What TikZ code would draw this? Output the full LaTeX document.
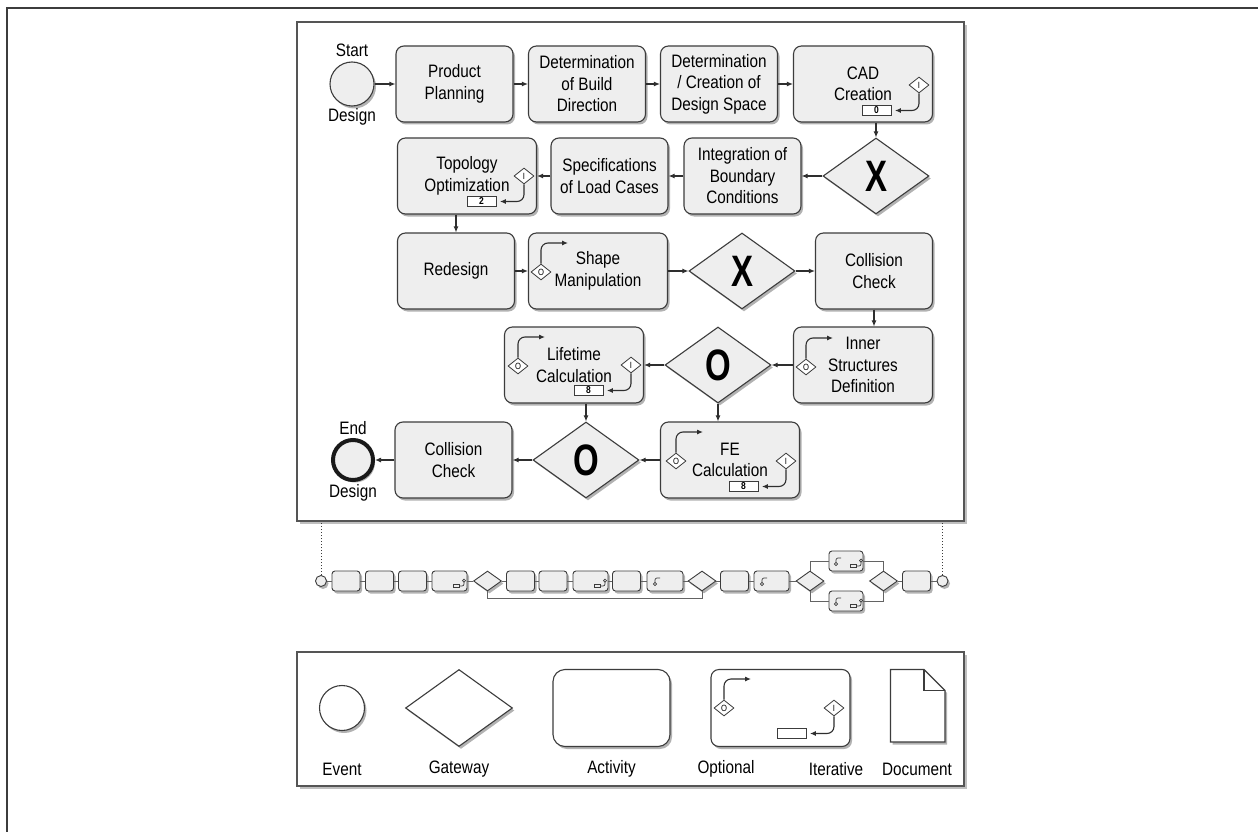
\documentclass[tikz,border=0pt]{standalone}
\usepackage{fontspec}
\setmainfont{Liberation Sans}[FakeStretch=0.85]
\newfontfamily\gwfont{Liberation Sans}[FakeStretch=0.75]
\usetikzlibrary{shapes.geometric,shadows,arrows.meta,calc}
\definecolor{bord}{HTML}{3C3C3C}
\definecolor{boxfill}{HTML}{EEEEEE}
\definecolor{arrcol}{HTML}{2E2E2E}
\definecolor{framecol}{HTML}{555555}
\tikzset{
  shadowed/.style={drop shadow={shadow xshift=2pt, shadow yshift=-2.5pt, opacity=0.3, fill=black}},
  act/.style={draw=bord, fill=boxfill, line width=1.1pt, rounded corners=8pt, minimum width=117pt, minimum height=76pt, inner sep=2pt, align=center, shadowed},
  wact/.style={act, minimum width=139pt},
  gw/.style={diamond, draw=bord, fill=boxfill, line width=1.1pt, minimum width=106pt, minimum height=76pt, inner sep=0pt, shadowed, font=\gwfont\fontsize{44pt}{44pt}\selectfont\bfseries},
  evt/.style={circle, draw=bord, fill=boxfill, line width=1.1pt, minimum size=44pt, inner sep=0pt, shadowed},
  lbl/.style={inner sep=0pt, align=center},
  smalld/.style={diamond, draw=bord, fill=white, line width=0.8pt, minimum width=20pt, minimum height=16pt, inner sep=0pt, font=\fontsize{9pt}{9pt}\selectfont},
  numbox/.style={draw=bord, fill=white, line width=0.8pt, minimum width=29pt, minimum height=10pt, inner sep=0pt, font=\fontsize{10pt}{10pt}\selectfont\bfseries},
  iconarr/.style={draw=arrcol, line width=1.1pt, -{Latex[length=6pt,width=5pt]}},
  conn/.style={draw=arrcol, line width=1.1pt, -{Latex[length=6pt,width=5pt]}},
  mbox/.style={draw=bord, fill=boxfill, line width=0.9pt, rounded corners=3pt, minimum width=28pt, minimum height=20pt, inner sep=0pt, shadowed},
  mgw/.style={diamond, draw=bord, fill=boxfill, line width=0.9pt, minimum width=28pt, minimum height=20pt, inner sep=0pt, shadowed},
  mline/.style={draw=bord!80, line width=0.9pt},
  mevt/.style={circle, draw=bord, fill=boxfill, line width=0.9pt, minimum size=11pt, inner sep=0pt, shadowed},
  minicon/.style={draw=bord, line width=0.7pt},
  framebox/.style={draw=framecol, line width=1.1pt, fill=white, drop shadow={shadow xshift=3pt, shadow yshift=-3pt, opacity=0.25, fill=black}},
  pics/optmark/.style={code={
    \node[smalld] (-d) at (0,0) {O};
    \coordinate (-t) at (27,-29);
    \draw[iconarr, rounded corners=7pt] (-d.north) |- (-t);
  }},
  pics/itermark/.style={code={
    \node[smalld] (-d) at (0,0) {I};
    \node[numbox] (-r) at (-42.5,25.5) {#1};
    \draw[iconarr, rounded corners=7pt, shorten >=3.5pt] (-d.south) |- (-r.east);
  }},
  pics/miniopt/.style={code={
    \draw[minicon] (0,0) circle (1.6pt);
    \draw[minicon, rounded corners=2pt] (0,-1.6) |- (5,-6);
  }},
  pics/miniiter/.style={code={
    \draw[minicon] (-3,-1.7) rectangle (3,1.7);
    \draw[minicon, rounded corners=2pt] (3,0) -| (8,-3.8);
    \draw[minicon] (8,-5.4) circle (1.6pt);
  }},
}
\begin{document}
\begin{tikzpicture}[x=1pt,y=-1pt, every node/.style={font=\fontsize{18pt}{21.5pt}\selectfont}]
\useasboundingbox (0,0) rectangle (1258,832);
% outer page lines
\draw[draw=bord, line width=1.4pt] (7,832) -- (7,8) -- (1258,8);

% frames
\node[framebox, minimum width=667pt, minimum height=499pt] (mainframe) at (630.5,271.5) {};
\node[framebox, minimum width=667pt, minimum height=134pt] (legframe) at (630.5,719) {};

% row 1
\node[evt] (start) at (352,84) {};
\node[lbl] (startlbl) at (352,50) {Start};
\node[lbl] (startlbl2) at (352,117) {Design};
\node[act] (pp) at (454.5,84) {Product\\Planning};
\node[act] (dbd) at (587,84) {Determination\\of Build\\Direction};
\node[act] (dcds) at (719,84) {Determination\\/ Creation of\\Design Space};
\node[wact] (cad) at (863,84) {CAD\\Creation};
\pic (cadi) at (919,85) {itermark=0};

% row 2
\node[gw] (gw1) at (876,176) {X};
\node[act] (integ) at (742.5,176) {Integration of\\Boundary\\Conditions};
\node[act] (specs) at (609.5,176) {Specifications\\of Load Cases};
\node[wact] (topo) at (467,176) {Topology\\Optimization};
\pic (topoi) at (524,176) {itermark=2};

% row 3
\node[act] (redesign) at (456,271) {Redesign};
\node[wact] (shape) at (598,271) {Shape\\Manipulation};
\pic (shapeo) at (541,272) {optmark};
\node[gw] (gw2) at (742,271) {X};
\node[act] (coll1) at (874,271) {Collision\\Check};

% row 4
\node[wact] (inner) at (863,365) {Inner\\Structures\\Definition};
\pic (innero) at (806,367) {optmark};
\node[gw] (gw3) at (718,365) {O};
\node[wact] (life) at (574,365) {Lifetime\\Calculation};
\pic (lifeo) at (518,366) {optmark};
\pic (lifei) at (631,365) {itermark=8};

% row 5
\node[wact] (fe) at (730,460) {FE\\Calculation};
\pic (feo) at (676,461) {optmark};
\pic (fei) at (786,461) {itermark=8};
\node[gw] (gw4) at (586,460) {O};
\node[act] (coll2) at (453.5,460) {Collision\\Check};
\node[evt, draw=black!90, line width=4pt, minimum size=40pt] (end) at (353,460) {};
\node[lbl] (endlbl) at (353,428) {End};
\node[lbl] (endlbl2) at (353,493) {Design};

% connectors
\draw[conn] (start) -- (pp);
\draw[conn] (pp) -- (dbd);
\draw[conn] (dbd) -- (dcds);
\draw[conn] (dcds) -- (cad);
\draw[conn] (gw1.north |- cad.south) -- (gw1.north);
\draw[conn] (gw1) -- (integ);
\draw[conn] (integ) -- (specs);
\draw[conn] (specs) -- (topo);
\draw[conn] (redesign.north |- topo.south) -- (redesign.north);
\draw[conn] (redesign) -- (shape);
\draw[conn] (shape) -- (gw2);
\draw[conn] (gw2) -- (coll1);
\draw[conn] (coll1.south) -- (coll1.south |- inner.north);
\draw[conn] (inner) -- (gw3);
\draw[conn] (gw3) -- (life);
\draw[conn] (gw3.south) -- (gw3.south |- fe.north);
\draw[conn] (gw4.north |- life.south) -- (gw4.north);
\draw[conn] (fe) -- (gw4);
\draw[conn] (gw4) -- (coll2);
\draw[conn] (coll2) -- (end);

% mini diagram
\node[mevt] (ms) at (321,581) {};
\node[mbox] (b1) at (346,581) {};
\node[mbox] (b2) at (379.5,581) {};
\node[mbox] (b3) at (412.5,581) {};
\node[mbox, minimum width=35pt] (b4) at (449.5,581) {};
\node[mgw] (d1) at (487.5,581) {};
\node[mbox] (b5) at (520.5,581) {};
\node[mbox] (b6) at (553,581) {};
\node[mbox, minimum width=35pt] (b7) at (590.5,581) {};
\node[mbox] (b8) at (626.5,581) {};
\node[mbox, minimum width=36pt] (b9) at (665,581) {};
\node[mgw] (d2) at (702,581) {};
\node[mbox] (b10) at (734.5,581) {};
\node[mbox, minimum width=35pt] (b11) at (771.5,581) {};
\node[mgw] (d3) at (810,581) {};
\node[mbox, minimum width=34pt] (up) at (846,561) {};
\node[mbox, minimum width=34pt] (lo) at (846,601) {};
\node[mgw] (d4) at (883.5,581) {};
\node[mbox] (b12) at (916.5,581) {};
\node[mevt] (me) at (942.5,581) {};
\pic at (456,586) {miniiter};
\pic at (597,586) {miniiter};
\pic at (853,566) {miniiter};
\pic at (853,606) {miniiter};
\pic at (655,584) {miniopt};
\pic at (762,584) {miniopt};
\pic at (836,564) {miniopt};
\pic at (836,604) {miniopt};
\draw[mline] (ms) -- (b1);
\draw[mline] (b1) -- (b2);
\draw[mline] (b2) -- (b3);
\draw[mline] (b3) -- (b4);
\draw[mline] (b4) -- (d1);
\draw[mline] (d1) -- (b5);
\draw[mline] (b5) -- (b6);
\draw[mline] (b6) -- (b7);
\draw[mline] (b7) -- (b8);
\draw[mline] (b8) -- (b9);
\draw[mline] (b9) -- (d2);
\draw[mline] (d2) -- (b10);
\draw[mline] (b10) -- (b11);
\draw[mline] (b11) -- (d3);
\draw[mline] (d3.north) |- (up.west);
\draw[mline] (up.east) -| (d4.north);
\draw[mline] (d3.south) |- (lo.west);
\draw[mline] (lo.east) -| (d4.south);
\draw[mline] (d4) -- (b12);
\draw[mline] (b12) -- (me);
\draw[mline] (d1.south) -- ++(0,7) -| (d2.south);
\draw[draw=bord, line width=1pt, dotted] (ms.north) -- (ms.north |- mainframe.south);
\draw[draw=bord, line width=1pt, dotted] (me.north) -- (me.north |- mainframe.south);

% legend
\node[evt, fill=white, minimum size=45pt] (levt) at (342,708) {};
\node[gw, fill=white, minimum width=107pt, minimum height=77pt] (lgw) at (459,708) {};
\node[act, fill=white, rounded corners=12pt, minimum height=77pt] (lact) at (611.5,708) {};
\node[wact, fill=white, minimum width=139pt, minimum height=77pt] (lopt) at (780.5,708) {};
\pic (lo) at (724,708) {optmark};
\pic (li) at (834,708) {itermark=};
\path[draw=bord, fill=white, line width=1.1pt, shadowed] (890.5,669.5) -- (924,669.5) -- (945,690.5) -- (945,742) -- (890.5,742) -- cycle;
\draw[draw=bord, line width=1.1pt] (924,669.5) -- (924,690.5) -- (945,690.5);
\node[lbl] (t1) at (342,769) {Event};
\node[lbl] (t2) at (459,769) {Gateway};
\node[lbl] (t3) at (611.5,769) {Activity};
\node[lbl] (t4) at (726,769) {Optional};
\node[lbl] (t5) at (836,769) {Iterative};
\node[lbl] (t6) at (917,769) {Document};
\end{tikzpicture}
\end{document}
